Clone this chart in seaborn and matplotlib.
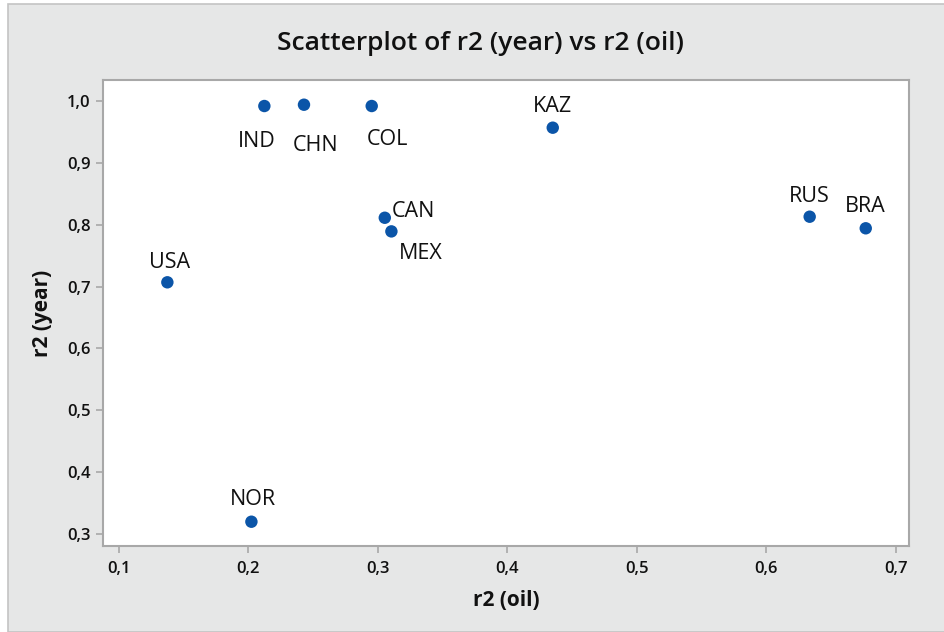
import matplotlib
matplotlib.use("Agg")
import matplotlib.pyplot as plt
from matplotlib.patches import Rectangle
import seaborn as sns
import pandas as pd

countries = ["IND", "CHN", "COL", "CAN", "MEX", "USA", "NOR", "KAZ", "RUS", "BRA"]
r2_oil = [0.2126, 0.2432, 0.2955, 0.3056, 0.3107, 0.1377, 0.2026, 0.4353, 0.6337, 0.6770]
r2_year = [0.9914, 0.9935, 0.9914, 0.8110, 0.7890, 0.7068, 0.3203, 0.9564, 0.8127, 0.7940]

x_ticks = [0.1, 0.2, 0.3, 0.4, 0.5, 0.6, 0.7]
y_ticks = [0.3, 0.4, 0.5, 0.6, 0.7, 0.8, 0.9, 1.0]

# label offsets in pixels (dx right, dy down) relative to each point
label_offsets = {
    "IND": (-8, 35), "CHN": (12, 41), "COL": (16, 33), "CAN": (29, -6),
    "MEX": (29, 22), "USA": (2, -20), "NOR": (2, -22), "KAZ": (0, -21),
    "RUS": (0, -20), "BRA": (0, -22),
}

df = pd.DataFrame({"country": countries, "r2 (oil)": r2_oil, "r2 (year)": r2_year})

sns.set_theme(style="white")
plt.rcParams["font.family"] = ["Open Sans", "DejaVu Sans"]

W, H = 944, 632
fig = plt.figure(figsize=(W / 100, H / 100), dpi=100)
fig.patch.set_facecolor("white")
bg = Rectangle((8 / W, 0), 1, 1 - 4 / H, transform=fig.transFigure,
               facecolor="#e6e7e7", edgecolor="#c4c4c4", linewidth=1.2, zorder=-10)
fig.patches.append(bg)

ax = fig.add_axes([103 / W, 1 - 546 / H, (909 - 103) / W, (546 - 80) / H])
ax.set_facecolor("white")

sns.scatterplot(data=df, x="r2 (oil)", y="r2 (year)", ax=ax, s=80,
                color="#0b55a8", edgecolor="none", linewidth=0, zorder=3)

for c, xv, yv in zip(countries, r2_oil, r2_year):
    dx, dy = label_offsets[c]
    ax.annotate(c, (xv, yv), xytext=(dx * 0.72, -dy * 0.72), textcoords="offset points",
                ha="center", va="center", fontsize=15.5, color="#111111")

ax.set_xlim(0.088, 0.7104)
ax.set_ylim(0.2811, 1.0334)
ax.set_xticks(x_ticks)
ax.set_yticks(y_ticks)
ax.set_xticklabels([f"{v:.1f}".replace(".", ",") for v in x_ticks])
ax.set_yticklabels([f"{v:.1f}".replace(".", ",") for v in y_ticks])

for sp in ax.spines.values():
    sp.set_color("#a8a8a8")
    sp.set_linewidth(1.5)
ax.tick_params(axis="both", which="major", length=5, width=1.2, color="#a8a8a8",
               labelsize=12, labelcolor="#111111", bottom=True, left=True)
ax.tick_params(axis="x", pad=6)
ax.tick_params(axis="y", pad=4)
for lab in ax.get_xticklabels() + ax.get_yticklabels():
    lab.set_fontweight("semibold")

ax.set_xlabel("r2 (oil)", fontsize=15, fontweight="bold", color="#111111", labelpad=9)
ax.set_ylabel("r2 (year)", fontsize=15, fontweight="bold", color="#111111", labelpad=10)

fig.text(480 / W, 1 - 44 / H, "Scatterplot of r2 (year) vs r2 (oil)", ha="center", va="center",
         fontsize=19, fontweight="semibold", color="#111111")

fig.savefig("out.png", dpi=100, facecolor=fig.get_facecolor())
